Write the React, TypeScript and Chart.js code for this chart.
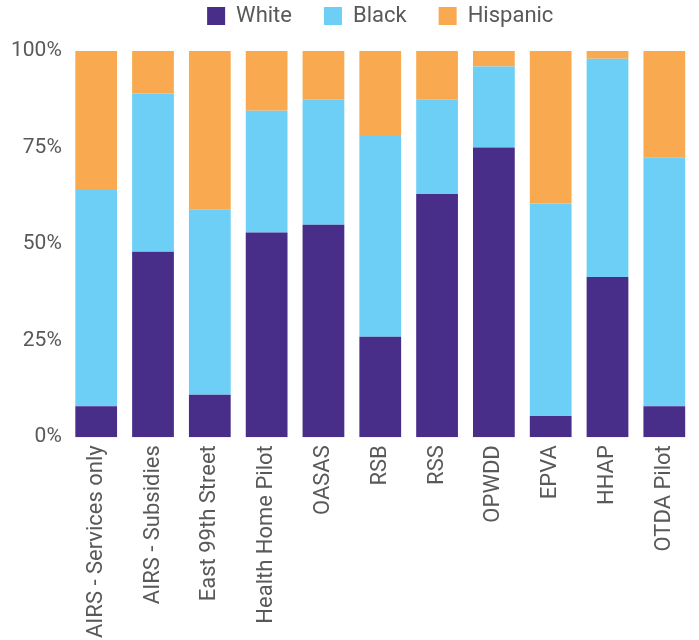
import React, { useEffect, useRef } from "react";
import { Chart, registerables } from "chart.js";

Chart.register(...registerables);

const categories = [
  "AIRS - Services only",
  "AIRS - Subsidies",
  "East 99th Street",
  "Health Home Pilot",
  "OASAS",
  "RSB",
  "RSS",
  "OPWDD",
  "EPVA",
  "HHAP",
  "OTDA Pilot",
];
const whiteValues = [8, 48, 11, 53, 55, 26, 63, 75, 5.5, 41.5, 8];
const blackValues = [56, 41, 48, 31.5, 32.5, 52, 24.5, 21, 55, 56.5, 64.5];
const hispanicValues = [36, 11, 41, 15.5, 12.5, 22, 12.5, 4, 39.5, 2, 27.5];
const yTickValues = [0, 25, 50, 75, 100];

const FONT = "'Roboto', sans-serif";
const TEXT = "#595959";

const legendFitPlugin = {
  id: "legendFit",
  beforeInit(chart: any) {
    const legend = chart.legend;
    if (!legend) return;
    const orig = legend.fit;
    legend.fit = function () {
      orig.call(this);
      this.height = 78;
    };
  },
};

export default function App() {
  const ref = useRef<HTMLCanvasElement>(null);
  useEffect(() => {
    document.body.style.margin = "0";
    if (!ref.current) return;
    const chart = new Chart(ref.current, {
      type: "bar",
      data: {
        labels: categories,
        datasets: [
          { label: "White", data: whiteValues, backgroundColor: "#482D89" },
          { label: "Black", data: blackValues, backgroundColor: "#6DCFF6" },
          { label: "Hispanic", data: hispanicValues, backgroundColor: "#F9AA51" },
        ],
      },
      options: {
        animation: false,
        responsive: false,
        maintainAspectRatio: false,
        layout: { padding: { top: -27, left: 5, right: -18, bottom: -6 } },
        datasets: {
          bar: { categoryPercentage: 1, barPercentage: 0.735 },
        },
        plugins: {
          tooltip: { enabled: false },
          legend: {
            position: "top",
            fullSize: false,
            labels: {
              boxWidth: 18,
              boxHeight: 18,
              padding: 32,
              color: TEXT,
              font: { family: FONT, size: 22 },
            },
          },
        },
        scales: {
          x: {
            stacked: true,
            grid: { display: false, drawTicks: false },
            border: { display: false },
            ticks: {
              color: TEXT,
              font: { family: FONT, size: 22 },
              minRotation: 90,
              maxRotation: 90,
              autoSkip: false,
              padding: 8,
            },
          },
          y: {
            stacked: true,
            min: 0,
            max: 100,
            grid: { display: false, drawTicks: false },
            border: { display: false },
            afterBuildTicks(axis: any) {
              axis.ticks = yTickValues.map((v) => ({ value: v }));
            },
            ticks: {
              color: TEXT,
              font: { family: FONT, size: 21 },
              padding: 6,
              callback: (v: any) => v + "%",
            },
          },
        },
      },
      plugins: [legendFitPlugin],
    } as any);
    return () => chart.destroy();
  }, []);
  return (
    <div style={{ width: 699, height: 640 }}>
      <canvas ref={ref} width={699} height={640} style={{ display: "block", width: 699, height: 640 }} />
    </div>
  );
}
